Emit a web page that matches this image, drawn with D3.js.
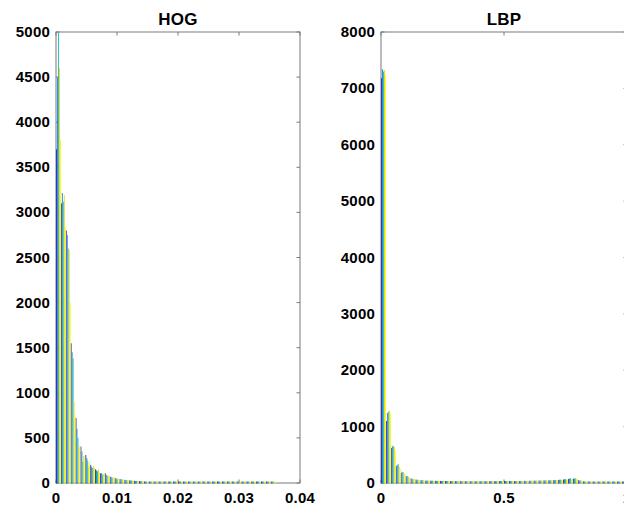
<!DOCTYPE html>
<html>
<head>
<meta charset="utf-8">
<script src="https://cdn.jsdelivr.net/npm/d3@7"></script>
<style>
  html, body { margin: 0; padding: 0; background: #fff; }
  svg text { font-family: "Liberation Sans", Arial, sans-serif; font-weight: bold; fill: #000; }
</style>
</head>
<body>
<svg id="chart" width="624" height="506"></svg>
<script>
// ---------------- DATA ----------------
const seriesColors = ["#3b2fb3", "#2a86ef", "#1fc0b4", "#e8d62a", "#f9fb0e"];

// HOG histogram: bin width and counts per bin for 5 series
const hogBinWidth = 0.0008;
const hogS1 = [3700,3100,2800,1549,720,403,310,200,152,107,107,70,55,44,35,30,24,22,18,15,14,13,12,12,11,11,10,10,10,9,9,9,8,8,8,8,7,7,7,7,7,6,6,6,6];
const hogS2 = [4500,3215,2750,1450,600,350,277,180,140,110,90,66,50,40,32,28,22,20,17,15,14,13,12,11,11,10,10,10,9,9,9,8,8,8,8,7,7,7,7,6,6,6,6,6,6];
const hogS3 = [5600,3118,2600,1382,500,236,250,166,130,95,80,60,48,42,30,27,23,19,16,15,14,13,12,11,11,10,10,9,9,9,8,8,8,8,7,7,7,7,6,6,6,6,6,5,5];
const hogS4 = [4600,3190,2583,900,388,300,181,190,150,100,85,65,52,38,33,26,21,18,15,14,13,12,12,11,10,10,10,9,9,9,8,8,8,8,7,7,7,7,6,6,6,6,5,5,5];
const hogS5 = [3800,2841,2000,754,420,290,230,170,120,90,78,58,44,36,30,25,20,17,15,14,13,12,11,11,10,10,9,9,9,8,8,8,8,7,7,7,7,6,6,6,6,5,5,5,5];
const hogYTicks = [0,500,1000,1500,2000,2500,3000,3500,4000,4500,5000];
const hogXTicks = [0,0.01,0.02,0.03,0.04];
const hogXLabels = ["0","0.01","0.02","0.03","0.04"];

// LBP histogram
const lbpBinWidth = 0.02;
const lbpS1 = [7180,1100,620,300,180,120,80,60,50,42,40,38,36,35,34,34,33,33,32,32,32,32,33,33,34,34,35,35,36,37,38,40,42,44,46,50,55,62,70,75,50,30,20,18,16,15,14,14,13,13];
const lbpS2 = [7340,1240,650,319,200,124,75,58,48,42,40,38,36,35,34,33,33,32,32,32,32,32,33,33,34,35,35,36,37,38,40,42,44,46,48,52,58,65,78,82,48,28,20,17,16,15,14,13,13,12];
const lbpS3 = [7300,1265,660,340,190,110,70,55,52,44,41,38,36,35,34,33,33,33,32,32,32,33,33,34,34,35,36,36,37,39,41,43,45,47,50,54,60,68,83,80,45,26,19,17,15,14,14,13,12,12];
const lbpS4 = [7326,1280,640,290,170,100,72,57,47,42,39,37,36,35,34,33,33,32,32,31,31,32,32,33,33,34,35,35,36,37,39,41,43,45,47,51,56,63,74,72,42,25,18,16,15,14,13,13,12,12];
const lbpS5 = [7250,1230,580,260,160,95,68,52,45,41,38,37,35,34,33,33,32,32,31,31,31,31,32,32,33,33,34,35,35,36,38,40,42,44,46,50,54,60,70,68,40,24,18,16,15,14,13,12,12,11];
const lbpYTicks = [0,1000,2000,3000,4000,5000,6000,7000,8000];
const lbpXTicks = [0,0.5,1];
const lbpXLabels = ["0","0.5","1"];

// ---------------- DRAW ----------------
const svg = d3.select("#chart");

function drawPanel(cfg) {
  const { left, right, top, bottom, xDomain, yDomain, binW, series, xTicks, xLabels, yTicks, title, id } = cfg;
  const x = d3.scaleLinear().domain(xDomain).range([left, right]);
  const y = d3.scaleLinear().domain(yDomain).range([bottom, top]);
  const g = svg.append("g");

  svg.append("clipPath").attr("id", "clip" + id)
    .append("rect").attr("x", left).attr("y", top).attr("width", right - left).attr("height", bottom - top + 2);

  const axisColor = "#7a7a7a";
  g.append("rect").attr("x", left).attr("y", top).attr("width", right - left).attr("height", bottom - top)
    .attr("fill", "none").attr("stroke", axisColor).attr("stroke-width", 1);

  const tl = 3.5;
  xTicks.forEach(t => {
    g.append("line").attr("x1", x(t)).attr("x2", x(t)).attr("y1", bottom).attr("y2", bottom - tl).attr("stroke", axisColor);
    g.append("line").attr("x1", x(t)).attr("x2", x(t)).attr("y1", top).attr("y2", top + tl).attr("stroke", axisColor);
  });
  yTicks.forEach(t => {
    g.append("line").attr("x1", left).attr("x2", left + tl).attr("y1", y(t)).attr("y2", y(t)).attr("stroke", axisColor);
    g.append("line").attr("x1", right).attr("x2", right - tl).attr("y1", y(t)).attr("y2", y(t)).attr("stroke", axisColor);
  });

  const n = series.length;
  const barsG = g.append("g").attr("clip-path", `url(#clip${id})`);
  series.forEach((vals, s) => {
    barsG.selectAll(null).data(vals).enter().append("rect")
      .attr("x", (d, i) => x(i * binW + s * binW / n))
      .attr("width", (d, i) => x(i * binW + (s + 1) * binW / n) - x(i * binW + s * binW / n))
      .attr("y", d => Math.min(y(d), bottom - 1.5))
      .attr("height", d => bottom + 0.5 - Math.min(y(d), bottom - 1.5))
      .attr("fill", seriesColors[s]);
  });

  xTicks.forEach((t, i) => {
    g.append("text").attr("x", x(t)).attr("y", bottom + 20).attr("text-anchor", "middle")
      .attr("font-size", 15).style("letter-spacing", "0.2px").text(xLabels[i]);
  });
  yTicks.forEach(t => {
    g.append("text").attr("x", left - 6).attr("y", y(t) + 5).attr("text-anchor", "end")
      .attr("font-size", 15).style("letter-spacing", "0.2px").text(d3.format("d")(t));
  });
  g.append("text").attr("x", (left + right) / 2).attr("y", top - 7).attr("text-anchor", "middle")
    .attr("font-size", 17).style("letter-spacing", "0.2px").text(title);
}

drawPanel({
  id: "hog", left: 56, right: 300, top: 32, bottom: 483,
  xDomain: [0, 0.04], yDomain: [0, 5000], binW: hogBinWidth,
  series: [hogS1, hogS2, hogS3, hogS4, hogS5],
  xTicks: hogXTicks, xLabels: hogXLabels, yTicks: hogYTicks, title: "HOG"
});

drawPanel({
  id: "lbp", left: 381, right: 627, top: 32, bottom: 483,
  xDomain: [0, 1], yDomain: [0, 8000], binW: lbpBinWidth,
  series: [lbpS1, lbpS2, lbpS3, lbpS4, lbpS5],
  xTicks: lbpXTicks, xLabels: lbpXLabels, yTicks: lbpYTicks, title: "LBP"
});
</script>
</body>
</html>
